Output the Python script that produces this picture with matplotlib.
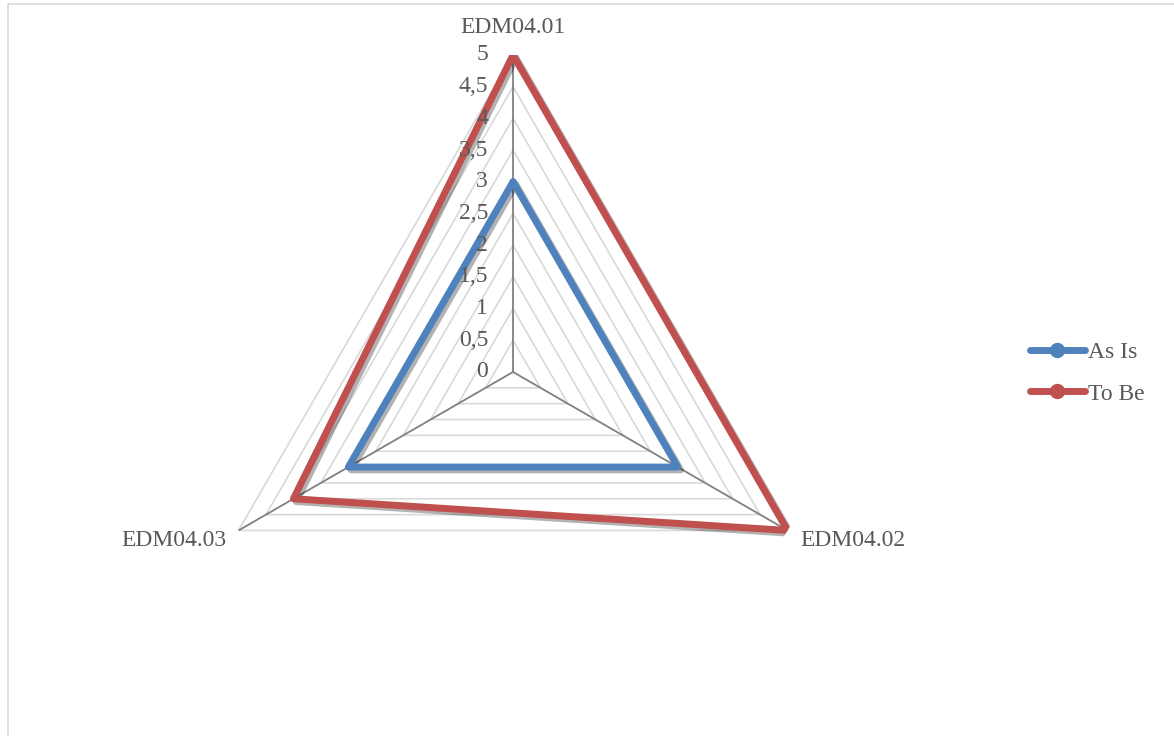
import matplotlib.pyplot as plt
import matplotlib.patheffects as pe
from matplotlib.lines import Line2D
from matplotlib.patches import Rectangle
import numpy as np

plt.rcParams['font.family'] = ['Liberation Serif', 'DejaVu Serif']

categories = ['EDM04.01', 'EDM04.02', 'EDM04.03']
as_is = [3, 3, 3]
to_be = [5, 5, 4]
ticks = [0, 0.5, 1, 1.5, 2, 2.5, 3, 3.5, 4, 4.5, 5]
tick_labels = ['0', '0,5', '1', '1,5', '2', '2,5', '3', '3,5', '4', '4,5', '5']

grey_txt = '#595959'
blue = '#4F81BD'
red = '#C0504D'

fig = plt.figure(figsize=(11.74, 7.36), dpi=100)
fig.patches.append(Rectangle((8 / 1174, -0.01), 1.02, 1 - 4 / 736 + 0.01,
                             transform=fig.transFigure, fill=False,
                             edgecolor='#d9d9d9', linewidth=1.2))

ax = fig.add_axes([0.1670, 0.0639, 0.5400, 0.8614], projection='polar')
ax.set_theta_offset(np.pi / 2)
ax.set_theta_direction(-1)
ax.set_ylim(0, 5)
ax.grid(False)
ax.set_xticks([])
ax.set_yticks([])
ax.spines['polar'].set_visible(False)
ax.patch.set_alpha(0)

n = len(categories)
angles = np.arange(n) * 2 * np.pi / n
closed = np.append(angles, angles[0])

# ring grid
for t in ticks[1:]:
    ax.plot(closed, [t] * (n + 1), color='#d9d9d9', lw=1.2, zorder=1)

# spokes
for a in angles:
    ax.plot([a, a], [0, 5], color='#808080', lw=1.3, zorder=2)

# tick labels along the first axis
for t, lab in zip(ticks, tick_labels):
    ax.annotate(lab, (0, t), xytext=(-18, 0), textcoords='offset points',
                ha='right', va='center', fontsize=17, color=grey_txt,
                zorder=5)

# category labels
ax.annotate(categories[0], (angles[0], 5), xytext=(0, 20),
            textcoords='offset points', ha='center', va='center',
            fontsize=17, color=grey_txt)
ax.annotate(categories[1], (angles[1], 5), xytext=(9, -7),
            textcoords='offset points', ha='left', va='center',
            fontsize=17, color=grey_txt)
ax.annotate(categories[2], (angles[2], 5), xytext=(-9, -7),
            textcoords='offset points', ha='right', va='center',
            fontsize=17, color=grey_txt)

shadow = [pe.SimpleLineShadow(offset=(2, -2), alpha=0.3, shadow_color='#000000'),
          pe.Normal()]
for vals, col in [(as_is, blue), (to_be, red)]:
    ax.plot(closed, vals + vals[:1], color=col, lw=5, solid_joinstyle='round',
            solid_capstyle='round', path_effects=shadow, zorder=4)

handles = [Line2D([], [], color=blue, lw=5, marker='o', markersize=10,
                  solid_capstyle='round'),
           Line2D([], [], color=red, lw=5, marker='o', markersize=10,
                  solid_capstyle='round')]
fig.legend(handles, ['As Is', 'To Be'], loc='center left',
           bbox_to_anchor=(0.859, 0.493), frameon=False, fontsize=17,
           handlelength=2.35, handletextpad=0.1, labelspacing=0.85,
           labelcolor=grey_txt)

fig.savefig('out.png', dpi=100)
